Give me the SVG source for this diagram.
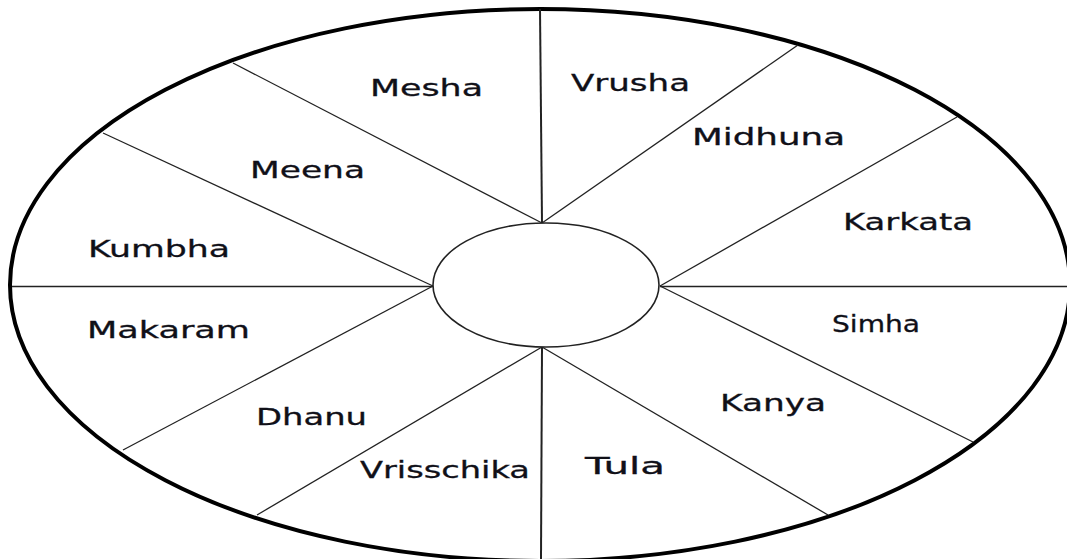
<svg xmlns="http://www.w3.org/2000/svg" width="1067" height="559" viewBox="0 0 1067 559">
<style>
.bg{fill:#ffffff}
.outer{fill:none;stroke:#000;stroke-width:4}
.inner{fill:#fff;stroke:#222;stroke-width:1.6}
.spoke{stroke:#222;stroke-width:1.3;fill:none}
.vert{stroke:#222;stroke-width:2;fill:none}
.lbl{font-family:"DejaVu Sans","Open Sans",sans-serif;font-size:23px;fill:#101018;stroke:#101018;stroke-width:0.3}
</style>
<rect class="bg" x="0" y="0" width="1067" height="559"/>
<g id="wheel">
<ellipse class="outer" cx="540" cy="285" rx="530" ry="276"/>
</g>
<g id="connectors">
<line class="vert" x1="540" y1="9" x2="542" y2="223"/>
<line class="vert" x1="542" y1="347" x2="541" y2="559"/>
<line class="spoke" x1="12" y1="286.5" x2="433" y2="286.5"/>
<line class="spoke" x1="660" y1="286.5" x2="1067" y2="286.5"/>
<line class="spoke" x1="233" y1="63" x2="542" y2="223"/>
<line class="spoke" x1="798" y1="45" x2="542" y2="223"/>
<line class="spoke" x1="103" y1="133" x2="433" y2="286"/>
<line class="spoke" x1="123" y1="450" x2="433" y2="286"/>
<line class="spoke" x1="957" y1="117" x2="660" y2="286"/>
<line class="spoke" x1="973" y1="442" x2="660" y2="286"/>
<line class="spoke" x1="257" y1="515" x2="542" y2="347"/>
<line class="spoke" x1="828" y1="515" x2="542" y2="347"/>
</g>
<g id="center">
<ellipse class="inner" cx="546" cy="285" rx="113" ry="62"/>
</g>
<g id="mesha"><text class="lbl" x="370" y="96" textLength="113" lengthAdjust="spacingAndGlyphs">Mesha</text></g>
<g id="vrusha"><text class="lbl" x="571" y="91" textLength="119" lengthAdjust="spacingAndGlyphs">Vrusha</text></g>
<g id="midhuna"><text class="lbl" x="692" y="145" textLength="153" lengthAdjust="spacingAndGlyphs">Midhuna</text></g>
<g id="karkata"><text class="lbl" x="843" y="230" textLength="130" lengthAdjust="spacingAndGlyphs">Karkata</text></g>
<g id="simha"><text class="lbl" x="832" y="332" textLength="88" lengthAdjust="spacingAndGlyphs">Simha</text></g>
<g id="kanya"><text class="lbl" x="720" y="411" textLength="106" lengthAdjust="spacingAndGlyphs">Kanya</text></g>
<g id="tula"><text class="lbl" x="585" y="474" textLength="80" lengthAdjust="spacingAndGlyphs">Tula</text></g>
<g id="vrisschika"><text class="lbl" x="360" y="478" textLength="170" lengthAdjust="spacingAndGlyphs">Vrisschika</text></g>
<g id="dhanu"><text class="lbl" x="256" y="425" textLength="111" lengthAdjust="spacingAndGlyphs">Dhanu</text></g>
<g id="makaram"><text class="lbl" x="87" y="338" textLength="163" lengthAdjust="spacingAndGlyphs">Makaram</text></g>
<g id="kumbha"><text class="lbl" x="88" y="257" textLength="142" lengthAdjust="spacingAndGlyphs">Kumbha</text></g>
<g id="meena"><text class="lbl" x="250" y="178" textLength="115" lengthAdjust="spacingAndGlyphs">Meena</text></g>
</svg>
